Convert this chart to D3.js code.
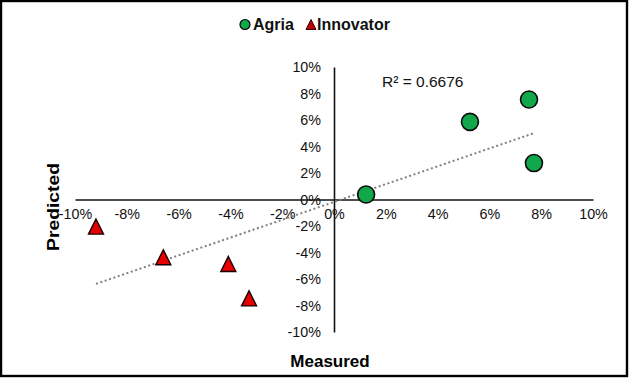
<!DOCTYPE html>
<html>
<head>
<meta charset="utf-8">
<script src="https://cdn.jsdelivr.net/npm/d3@7"></script>
<style>
  html, body { margin: 0; padding: 0; background: #fff; }
  text { font-family: "Liberation Sans", Arial, sans-serif; }
</style>
</head>
<body>
<svg id="chart" width="629" height="379"></svg>
<script>
// ---- data ----
const seriesNames = ["Agria", "Innovator"];
const agriaMeasured = [0.0124, 0.0525, 0.0753, 0.0772];
const agriaPredicted = [0.0038, 0.0586, 0.0755, 0.0275];
const innovatorMeasured = [-0.0919, -0.0659, -0.0408, -0.0328];
const innovatorPredicted = [-0.0210, -0.0442, -0.0492, -0.0752];
const tickValues = [-0.10, -0.08, -0.06, -0.04, -0.02, 0, 0.02, 0.04, 0.06, 0.08, 0.10];
const tickLabels = ["-10%", "-8%", "-6%", "-4%", "-2%", "0%", "2%", "4%", "6%", "8%", "10%"];
const r2Label = "R² = 0.6676";
const xTitle = "Measured";
const yTitle = "Predicted";

// ---- setup ----
const svg = d3.select("#chart");
const W = 629, H = 379;
svg.append("rect").attr("x", 1).attr("y", 1).attr("width", W - 3).attr("height", H - 4)
  .attr("fill", "#fff").attr("stroke", "#000").attr("stroke-width", 2.4);

const x = d3.scaleLinear().domain([-0.1, 0.1]).range([75, 593]);
const y = d3.scaleLinear().domain([-0.1, 0.1]).range([332, 67]);
const fmt = d => tickLabels[tickValues.findIndex(v => Math.abs(v - d) < 1e-9)];

// x axis (at y = 0)
const xAxis = svg.append("g").attr("transform", `translate(0,${y(0)})`)
  .call(d3.axisBottom(x).tickValues(tickValues).tickFormat(fmt).tickSize(0).tickPadding(9));
xAxis.select(".domain").attr("stroke", "#111").attr("stroke-width", 1.6);
xAxis.selectAll("text").attr("font-size", 14.3).attr("fill", "#111")
  .attr("font-family", "'Liberation Sans', Arial, sans-serif");

// y axis (at x = 0)
const yAxis = svg.append("g").attr("transform", `translate(${x(0)},0)`)
  .call(d3.axisLeft(y).tickValues(tickValues).tickFormat(fmt).tickSize(0).tickPadding(13));
yAxis.select(".domain").attr("stroke", "#111").attr("stroke-width", 1.6);
yAxis.selectAll("text").attr("font-size", 14.3).attr("fill", "#111")
  .attr("font-family", "'Liberation Sans', Arial, sans-serif");

// ---- trendline (linear regression over all points) ----
const allX = agriaMeasured.concat(innovatorMeasured);
const allY = agriaPredicted.concat(innovatorPredicted);
const mx = d3.mean(allX), my = d3.mean(allY);
const sxy = d3.sum(allX, (v, i) => (v - mx) * (allY[i] - my));
const sxx = d3.sum(allX, v => (v - mx) * (v - mx));
const slope = sxy / sxx, intercept = my - slope * mx;
const [x0, x1] = d3.extent(allX);
svg.append("line")
  .attr("x1", x(x0)).attr("y1", y(intercept + slope * x0))
  .attr("x2", x(x1)).attr("y2", y(intercept + slope * x1))
  .attr("stroke", "#808080").attr("stroke-width", 2).attr("stroke-dasharray", "2,2.6");

// ---- markers ----
const agria = agriaMeasured.map((m, i) => ({ m, p: agriaPredicted[i] }));
const innov = innovatorMeasured.map((m, i) => ({ m, p: innovatorPredicted[i] }));
const triPath = (cx, cy, s) => `M${cx},${cy - s * 0.55}L${cx + s / 2},${cy + s * 0.45}L${cx - s / 2},${cy + s * 0.45}Z`;

svg.append("g").selectAll("path").data(innov).join("path")
  .attr("d", d => triPath(x(d.m), y(d.p), 15))
  .attr("fill", "#E60000").attr("stroke", "#1a0000").attr("stroke-width", 1.4);

svg.append("g").selectAll("circle").data(agria).join("circle")
  .attr("cx", d => x(d.m)).attr("cy", d => y(d.p)).attr("r", 8.5)
  .attr("fill", "#10A84A").attr("stroke", "#0a0a0a").attr("stroke-width", 1.6);

// ---- R² label ----
svg.append("text").attr("x", 382).attr("y", 87).attr("font-size", 15.5).attr("fill", "#111").text(r2Label);

// ---- axis titles ----
svg.append("text").attr("x", 330).attr("y", 367).attr("text-anchor", "middle")
  .attr("font-size", 17).attr("font-weight", "bold").attr("fill", "#000").text(xTitle);
svg.append("text").attr("transform", "translate(59,207) rotate(-90)").attr("text-anchor", "middle")
  .attr("font-size", 17).attr("font-weight", "bold").attr("fill", "#000")
  .attr("textLength", 88).attr("lengthAdjust", "spacingAndGlyphs").text(yTitle);

// ---- legend ----
const lg = svg.append("g");
lg.append("circle").attr("cx", 245).attr("cy", 24.5).attr("r", 5)
  .attr("fill", "#10A84A").attr("stroke", "#000").attr("stroke-width", 1.2);
lg.append("text").attr("x", 253).attr("y", 30).attr("font-size", 16).attr("font-weight", "bold")
  .attr("fill", "#111").text(seriesNames[0]);
lg.append("path").attr("d", triPath(311, 25, 10))
  .attr("fill", "#C00000").attr("stroke", "#300").attr("stroke-width", 1);
lg.append("text").attr("x", 317).attr("y", 30).attr("font-size", 16).attr("font-weight", "bold")
  .attr("fill", "#111").text(seriesNames[1]);
</script>
</body>
</html>
